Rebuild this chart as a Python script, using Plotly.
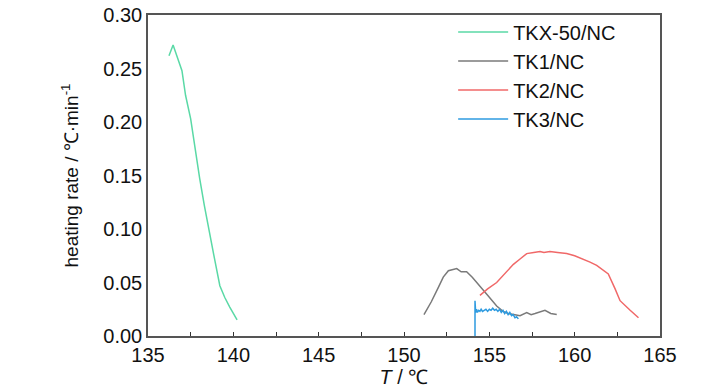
import plotly.graph_objects as go

# ---- data ----
tkx_T = [136.23, 136.47, 136.99, 137.2, 137.5, 137.75, 138.03, 138.3, 138.62, 138.9, 139.21, 139.5, 139.79, 140.0, 140.22]
tkx_r = [0.262, 0.272, 0.248, 0.225, 0.203, 0.175, 0.147, 0.122, 0.097, 0.072, 0.047, 0.036, 0.027, 0.021, 0.015]

tk1_T = [151.17, 151.6, 152.0, 152.3, 152.6, 152.85, 153.09, 153.35, 153.67, 154.0, 154.45, 154.9, 155.43,
         155.8, 156.11, 156.45, 156.8, 157.19, 157.45, 157.68, 158.0, 158.26, 158.6, 158.95]
tk1_r = [0.020, 0.032, 0.045, 0.055, 0.061, 0.062, 0.063, 0.060, 0.060, 0.055, 0.047, 0.038, 0.028,
         0.023, 0.021, 0.020, 0.019, 0.022, 0.020, 0.021, 0.023, 0.024, 0.021, 0.020]

tk2_T = [154.45, 154.9, 155.43, 155.9, 156.41, 156.8, 157.19, 157.6, 157.97, 158.2, 158.55, 159.0, 159.53,
         160.0, 160.51, 160.9, 161.29, 161.6, 161.97, 162.37, 162.66, 163.25, 163.74]
tk2_r = [0.038, 0.044, 0.050, 0.058, 0.067, 0.072, 0.077, 0.078, 0.079, 0.078, 0.079, 0.078, 0.077,
         0.075, 0.072, 0.069, 0.066, 0.062, 0.058, 0.044, 0.033, 0.024, 0.017]

tk3_T = [154.16, 154.16, 154.2, 154.25, 154.3, 154.38, 154.45, 154.52, 154.6, 154.7, 154.8, 154.9, 155.0,
         155.1, 155.2, 155.3, 155.4, 155.5, 155.6, 155.7, 155.8, 155.9, 156.0, 156.1, 156.2, 156.3, 156.4,
         156.5, 156.6, 156.7]
tk3_r = [0.0, 0.033, 0.022, 0.025, 0.022, 0.024, 0.023, 0.025, 0.023, 0.024, 0.025, 0.023, 0.025,
         0.024, 0.026, 0.024, 0.025, 0.023, 0.025, 0.022, 0.024, 0.021, 0.023, 0.020, 0.022, 0.019, 0.020,
         0.017, 0.018, 0.016]

names = ["TKX-50/NC", "TK1/NC", "TK2/NC", "TK3/NC"]
colors = ["#5ad9a6", "#7a7a7a", "#f06868", "#2e9be0"]

FONT = "Liberation Sans, Arial, sans-serif"

fig = go.Figure()
for T, r, n, c in zip([tkx_T, tk1_T, tk2_T, tk3_T], [tkx_r, tk1_r, tk2_r, tk3_r], names, colors):
    fig.add_trace(go.Scatter(x=T, y=r, mode="lines", name=n,
                             line=dict(color=c, width=1.5)))

fig.update_layout(
    width=728, height=390,
    margin=dict(l=148, r=68, t=15, b=54, autoexpand=False),
    paper_bgcolor="white", plot_bgcolor="white",
    font=dict(family=FONT, size=20, color="#111"),
    showlegend=True,
    legend=dict(x=0.596, y=1.008, xanchor="left", yanchor="top",
                bgcolor="rgba(0,0,0,0)", font=dict(size=20),
                tracegroupgap=0, itemwidth=50),
)
fig.update_xaxes(
    range=[135, 165], tickvals=[135, 140, 145, 150, 155, 160, 165],
    showgrid=False, zeroline=False,
    showline=True, linecolor="#555", linewidth=1.5, mirror=True,
    ticks="inside", ticklen=4, tickcolor="#333",
    minor=dict(dtick=2.5, ticks="inside", ticklen=4, tickcolor="#333", showgrid=False),
    tickfont=dict(size=20),
    title=dict(text="<i>T</i> / ℃", font=dict(size=20), standoff=2),
)
fig.update_yaxes(
    range=[0, 0.30], tickvals=[0, 0.05, 0.10, 0.15, 0.20, 0.25, 0.30],
    tickformat=".2f",
    showgrid=False, zeroline=False,
    showline=True, linecolor="#555", linewidth=1.5, mirror=True,
    ticks="", tickfont=dict(size=20),
    title=dict(text="heating rate / ℃·min<sup>-1</sup>", font=dict(size=19), standoff=20),
)

fig.write_html("out.html", config={"displayModeBar": False},
               post_script="document.body.style.margin='0';")
